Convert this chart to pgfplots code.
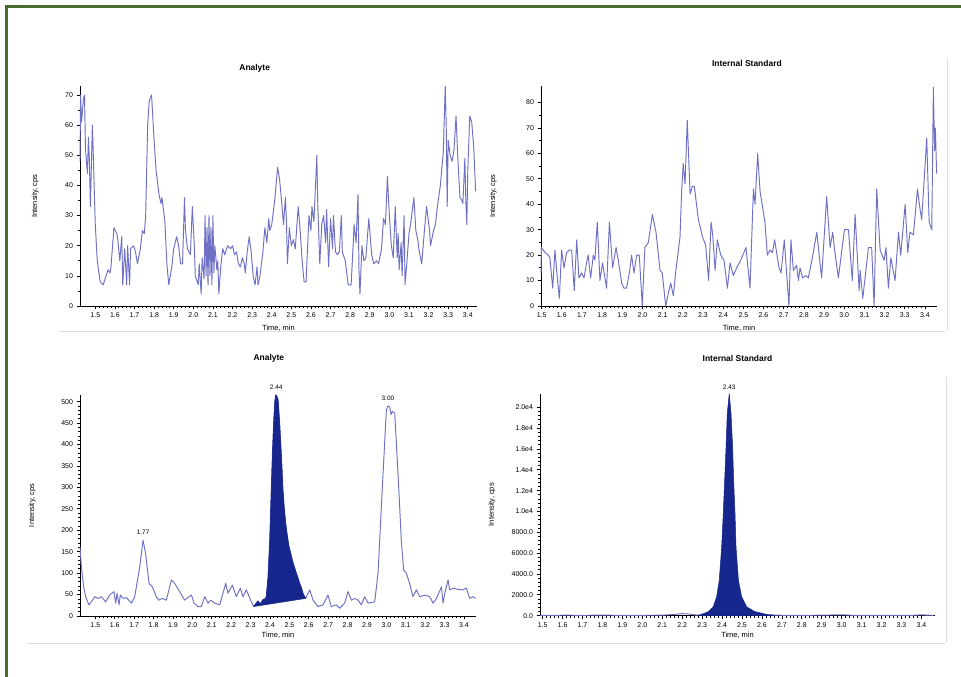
\documentclass[border=0pt]{standalone}
\usepackage{fontspec}
\setmainfont{Liberation Sans}
\usepackage{pgfplots}
\pgfplotsset{compat=1.18}
\definecolor{trace}{RGB}{110,112,198}
\definecolor{navy}{RGB}{22,38,140}
\definecolor{framegreen}{RGB}{72,106,46}
\definecolor{panelgray}{RGB}{222,222,222}

\pgfplotsset{panel/.style={
  scale only axis,
  axis lines*=left,
  axis line style={-, black, line width=0.9bp},
  tick align=outside, tick pos=left,
  major tick length=3.5bp, minor tick length=2bp,
  every tick/.style={black, line width=0.7bp},
  tick label style={font=\fontsize{7}{8}\selectfont},
  label style={font=\fontsize{7.5}{8.5}\selectfont},
  title style={font=\bfseries\fontsize{8.5}{10}\selectfont, anchor=south},
  xtick={1.5,1.6,1.7,1.8,1.9,2.0,2.1,2.2,2.3,2.4,2.5,2.6,2.7,2.8,2.9,3.0,3.1,3.2,3.3,3.4},
  xticklabels={1.5,1.6,1.7,1.8,1.9,2.0,2.1,2.2,2.3,2.4,2.5,2.6,2.7,2.8,2.9,3.0,3.1,3.2,3.3,3.4},
  minor x tick num=4,
  xlabel={Time, min},
  ylabel={Intensity, cps},
  ylabel style={anchor=center},
  xlabel style={anchor=center},
  every axis plot/.append style={line width=0.95bp, line join=round},
  clip=false,
}}

\begin{document}
\begin{tikzpicture}[x=1bp,y=1bp]
\path[use as bounding box] (0,0) rectangle (961,677);
\fill[white] (0,0) rectangle (961,677);
\draw[framegreen, line width=3bp] (6.5,0) -- (6.5,670.5) -- (961,670.5);
% faint panel frames
\draw[panelgray, line width=0.8bp] (60,346) -- (945,346);
\draw[panelgray, line width=0.8bp] (947,619) -- (947,347);
\draw[panelgray, line width=0.8bp] (28,34) -- (945,34);
\draw[panelgray, line width=0.8bp] (946,300) -- (946,35);

% ---------------- top left: Analyte ----------------
\begin{axis}[panel,
  at={(80bp,371bp)}, anchor=south west,
  width=397bp, height=220bp,
  xmin=1.422, xmax=3.447, ymin=0, ymax=73,
  ytick={0,10,20,30,40,50,60,70},
  yticklabels={0,10,20,30,40,50,60,70},
  minor y tick num=1,
  title={Analyte},
  title style={at={(0.44,1)}, yshift=4bp},
  ylabel style={at={(axis description cs:-0.113,0.5)}},
  xlabel style={at={(axis description cs:0.5,-0.1)}},
]
\addplot[trace] coordinates {
(1.422,48) (1.425,70) (1.43,61) (1.44,69) (1.445,70) (1.45,52) (1.46,44) (1.465,56)
(1.47,48) (1.475,33) (1.485,60) (1.49,50) (1.495,38) (1.50,27) (1.51,15) (1.525,8)
(1.54,7) (1.55,9) (1.565,12) (1.575,11) (1.58,13) (1.595,26) (1.61,24) (1.615,22)
(1.625,15) (1.635,23) (1.64,7) (1.65,19) (1.66,7) (1.665,20) (1.675,7) (1.68,19)
(1.695,20) (1.705,18) (1.715,14) (1.73,19) (1.74,25) (1.75,24) (1.757,30) (1.767,60)
(1.775,68) (1.787,70) (1.80,55) (1.81,45) (1.825,37) (1.835,34) (1.84,36) (1.855,28)
(1.865,14) (1.875,7) (1.89,13) (1.90,19) (1.915,23) (1.925,20) (1.935,14) (1.945,14)
(1.955,36) (1.96,25) (1.97,19) (1.985,17) (1.995,33) (2.005,20) (2.01,10) (2.025,7)
(2.03,14) (2.04,4) (2.045,16) (2.055,9) (2.06,30) (2.065,10) (2.07,26) (2.075,7)
(2.08,30) (2.085,10) (2.09,26) (2.095,7) (2.10,30) (2.105,11) (2.11,20) (2.12,12)
(2.125,15) (2.13,4) (2.14,13) (2.15,19) (2.16,17) (2.175,20) (2.19,19) (2.20,20)
(2.21,17) (2.22,18) (2.23,14) (2.24,13) (2.25,16) (2.26,14) (2.265,11) (2.275,18)
(2.285,23) (2.295,18) (2.305,10) (2.315,7) (2.325,13) (2.33,7) (2.34,10) (2.355,18)
(2.365,26) (2.375,21) (2.385,29) (2.39,25) (2.40,27) (2.415,35) (2.43,46) (2.44,42)
(2.45,35) (2.46,27) (2.47,36) (2.475,28) (2.48,14) (2.49,26) (2.50,20) (2.51,22)
(2.52,19) (2.535,33) (2.545,25) (2.555,15) (2.565,8) (2.575,8) (2.59,30) (2.60,25)
(2.605,33) (2.615,28) (2.63,50) (2.635,33) (2.645,14) (2.655,27) (2.665,30) (2.675,21)
(2.68,32) (2.69,13) (2.70,29) (2.71,19) (2.715,30) (2.725,18) (2.735,17) (2.745,18)
(2.755,30) (2.76,18) (2.775,15) (2.79,7) (2.805,7) (2.815,20) (2.82,27) (2.83,21)
(2.84,37) (2.845,12) (2.85,4) (2.86,20) (2.87,15) (2.88,16) (2.895,29) (2.91,17)
(2.92,14) (2.935,15) (2.945,14) (2.96,19) (2.97,29) (2.98,27) (2.99,43) (3.00,30)
(3.01,20) (3.02,16) (3.03,33) (3.04,16) (3.045,24) (3.05,12) (3.06,21) (3.065,10)
(3.075,30) (3.08,7) (3.09,15) (3.10,24) (3.11,28) (3.125,36) (3.135,25) (3.145,22)
(3.15,19) (3.165,14) (3.18,26) (3.19,33) (3.205,25) (3.21,20) (3.225,25) (3.235,27)
(3.245,33) (3.26,40) (3.275,51) (3.285,73) (3.29,60) (3.295,33) (3.30,55) (3.31,50)
(3.32,48) (3.33,52) (3.34,63) (3.35,48) (3.36,36) (3.37,35) (3.375,34) (3.385,49)
(3.39,35) (3.395,27) (3.40,45) (3.41,63) (3.42,61) (3.43,53) (3.44,38)
};
\end{axis}

% ---------------- top right: Internal Standard ----------------
\begin{axis}[panel,
  at={(541bp,371bp)}, anchor=south west,
  width=396bp, height=220bp,
  xmin=1.497, xmax=3.460, ymin=0, ymax=86.5,
  ytick={0,10,20,30,40,50,60,70,80},
  yticklabels={0,10,20,30,40,50,60,70,80},
  minor y tick num=1,
  title={Internal Standard},
  title style={at={(0.52,1)}, yshift=10bp},
  ylabel style={at={(axis description cs:-0.121,0.5)}},
  xlabel style={at={(axis description cs:0.5,-0.1)}},
]
\addplot[trace] coordinates {
(1.497,13) (1.499,23) (1.517,21) (1.533,20) (1.541,19) (1.555,7) (1.566,22) (1.579,10)
(1.588,3) (1.599,22) (1.611,15) (1.624,21) (1.637,22) (1.649,22) (1.662,6) (1.674,26)
(1.685,11) (1.698,13) (1.710,11) (1.723,17) (1.731,20) (1.743,11) (1.756,20) (1.764,18)
(1.776,33) (1.789,10) (1.802,17) (1.822,7) (1.836,33) (1.852,15) (1.869,23) (1.880,18)
(1.897,9) (1.908,7) (1.921,7) (1.935,13) (1.946,20) (1.958,13) (1.971,20) (1.984,20)
(1.999,0) (2.012,23) (2.029,25) (2.049,36) (2.067,29) (2.087,14) (2.098,13) (2.115,0)
(2.128,5) (2.140,9) (2.153,4) (2.164,13) (2.186,27) (2.194,45) (2.202,56) (2.211,48)
(2.222,73) (2.236,44) (2.247,47) (2.257,47) (2.277,34) (2.298,27) (2.313,24) (2.328,10)
(2.340,33) (2.348,28) (2.360,14) (2.371,26) (2.388,20) (2.404,18) (2.421,7) (2.434,17)
(2.450,12) (2.467,15) (2.487,18) (2.513,23) (2.533,7) (2.550,46) (2.558,40) (2.571,60)
(2.583,45) (2.607,33) (2.619,20) (2.632,22) (2.644,21) (2.655,26) (2.677,15) (2.687,13)
(2.703,26) (2.726,0) (2.736,26) (2.748,14) (2.764,16) (2.773,10) (2.781,15) (2.794,11)
(2.809,12) (2.822,11) (2.842,19) (2.864,29) (2.888,11) (2.913,43) (2.930,23) (2.943,29)
(2.951,23) (2.971,11) (3.001,30) (3.021,30) (3.040,10) (3.054,36) (3.074,6) (3.079,14)
(3.092,3) (3.120,23) (3.136,23) (3.148,0) (3.161,46) (3.178,22) (3.198,18) (3.207,23)
(3.219,7) (3.231,19) (3.240,15) (3.252,10) (3.269,29) (3.280,20) (3.302,40) (3.315,21)
(3.326,29) (3.343,28) (3.363,46) (3.376,38) (3.384,34) (3.409,66) (3.421,33) (3.434,30)
(3.442,86) (3.448,61) (3.452,70) (3.458,52)
};
\end{axis}

% ---------------- bottom left: Analyte ----------------
\begin{axis}[panel,
  at={(80bp,61bp)}, anchor=south west,
  width=396bp, height=221bp,
  xmin=1.421, xmax=3.462, ymin=0, ymax=515.6,
  ytick={0,50,100,150,200,250,300,350,400,450,500},
  yticklabels={0,50,100,150,200,250,300,350,400,450,500},
  minor y tick num=4,
  title={Analyte},
  title style={at={(0.477,1)}, yshift=23bp},
  ylabel style={at={(axis description cs:-0.121,0.5)}},
  xlabel style={at={(axis description cs:0.5,-0.086)}},
]
\addplot[trace] coordinates {
(1.421,162) (1.428,115) (1.440,68) (1.450,45) (1.467,26) (1.485,37) (1.497,45) (1.514,41)
(1.531,45) (1.553,33) (1.574,49) (1.596,57) (1.605,30) (1.612,53) (1.622,26) (1.629,49)
(1.643,41) (1.660,43) (1.686,30) (1.703,45) (1.729,115) (1.746,177) (1.759,146) (1.777,76)
(1.794,68) (1.814,45) (1.828,37) (1.845,41) (1.866,37) (1.892,84) (1.909,76) (1.935,57)
(1.960,37) (1.995,49) (2.009,30) (2.029,22) (2.046,22) (2.064,45) (2.081,30) (2.095,37)
(2.115,30) (2.141,26) (2.172,76) (2.184,53) (2.206,72) (2.227,45) (2.247,65) (2.261,45)
(2.278,61) (2.304,33) (2.316,22) (2.338,35) (2.350,28) (2.364,38) (2.375,40) (2.381,45)
(2.390,90) (2.399,177) (2.407,294) (2.413,380) (2.419,449) (2.425,500) (2.430,516)
(2.436,512) (2.442,504) (2.450,449) (2.459,372) (2.467,294) (2.474,250) (2.481,216)
(2.490,185) (2.498,162) (2.505,150) (2.515,131) (2.522,120) (2.536,100) (2.545,88)
(2.553,76) (2.562,66) (2.570,53) (2.578,46) (2.584,41)
(2.605,61) (2.622,37) (2.648,22) (2.674,26) (2.699,49) (2.716,22)
(2.742,26) (2.759,18) (2.785,30) (2.802,57) (2.820,37) (2.837,41) (2.854,37) (2.871,26)
(2.888,45) (2.906,30) (2.940,33) (2.957,100) (2.983,333) (3.000,481) (3.008,490) (3.017,488)
(3.024,470) (3.031,477) (3.043,473) (3.060,333) (3.077,177) (3.089,107) (3.103,100) (3.120,76)
(3.137,45) (3.155,61) (3.172,45) (3.198,49) (3.223,45) (3.241,30) (3.258,41) (3.284,68)
(3.292,30) (3.301,53) (3.318,84) (3.326,61) (3.344,65) (3.369,62) (3.395,61) (3.412,65)
(3.430,41) (3.447,45) (3.460,41)
};
\addplot[fill=navy, draw=navy, line width=0.5bp] coordinates {
(2.316,22) (2.338,35) (2.350,28) (2.364,38) (2.375,40) (2.381,45) (2.390,90) (2.399,177)
(2.407,294) (2.413,380) (2.419,449) (2.425,500) (2.430,516) (2.436,512) (2.442,504)
(2.450,449) (2.459,372) (2.467,294) (2.474,250) (2.481,216) (2.490,185) (2.498,162)
(2.505,150) (2.515,131) (2.522,120) (2.536,100) (2.545,88) (2.553,76) (2.562,66)
(2.570,53) (2.578,46) (2.584,41)
} -- cycle;
\node[font=\fontsize{6.5}{7}\selectfont, anchor=south] at (axis cs:2.432,521) {2.44};
\node[font=\fontsize{6.5}{7}\selectfont, anchor=south] at (axis cs:1.746,182) {1.77};
\node[font=\fontsize{6.5}{7}\selectfont, anchor=south] at (axis cs:3.008,495) {3.00};
\end{axis}

% ---------------- bottom right: Internal Standard ----------------
\begin{axis}[panel,
  at={(540bp,61.3bp)}, anchor=south west,
  width=395bp, height=222bp,
  xmin=1.487, xmax=3.468, ymin=0, ymax=21300,
  ytick={0,2000,4000,6000,8000,10000,12000,14000,16000,18000,20000},
  yticklabels={0.0,2000.0,4000.0,6000.0,8000.0,1.0e4,1.2e4,1.4e4,1.6e4,1.8e4,2.0e4},
  scaled y ticks=false,
  minor y tick num=4,
  title={Internal Standard},
  title style={at={(0.5,1)}, yshift=23bp},
  ylabel style={at={(axis description cs:-0.1215,0.5)}},
  xlabel style={at={(axis description cs:0.5,-0.09)}},
]
\addplot[trace] coordinates {
(1.487,40) (1.55,30) (1.62,50) (1.70,30) (1.78,60) (1.86,40) (1.95,30) (2.02,40)
(2.10,50) (2.16,120) (2.20,200) (2.24,150) (2.27,60) (2.289,80) (2.31,200) (2.331,380)
(2.565,380) (2.624,100) (2.66,60) (2.70,40) (2.80,30) (2.90,50) (3.00,90) (3.05,40)
(3.15,30) (3.25,40) (3.35,30) (3.40,80) (3.46,30)
};
\addplot[fill=navy, draw=navy, line width=0.5bp] coordinates {
(2.289,80) (2.31,200) (2.331,380) (2.356,860) (2.373,1820) (2.386,3420) (2.398,6600)
(2.406,9800) (2.413,12990) (2.420,16170) (2.426,19370) (2.436,21300) (2.445,19370)
(2.453,16170) (2.458,12990) (2.465,9800) (2.470,6600) (2.482,3420) (2.498,1820)
(2.523,860) (2.565,380) (2.624,100) (2.66,60)
} \closedcycle;
\node[font=\fontsize{6.5}{7}\selectfont, anchor=south] at (axis cs:2.436,21350) {2.43};
\end{axis}
\end{tikzpicture}
\end{document}
